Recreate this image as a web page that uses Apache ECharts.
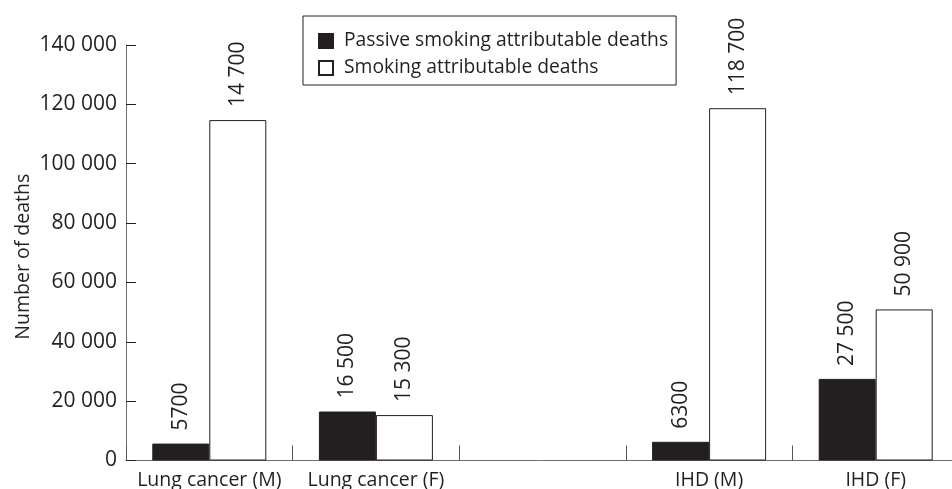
<!DOCTYPE html>
<html>
<head>
<meta charset="utf-8">
<script src="https://cdn.jsdelivr.net/npm/echarts@6/dist/echarts.min.js"></script>
<style>html,body{margin:0;padding:0;background:#fff}#c{width:952px;height:489px}</style>
</head>
<body>
<div id="c"></div>
<script>
var categories = ['Lung cancer (M)', 'Lung cancer (F)', '', 'IHD (M)', 'IHD (F)'];
var passiveValues = [5700, 16500, null, 6300, 27500];
var smokingValues = [114700, 15300, null, 118700, 50900];
var passiveLabels = ['5700', '16 500', '', '6300', '27 500'];
var smokingLabels = ['14 700', '15 300', '', '118 700', '50 900'];
var seriesNames = ['Passive smoking attributable deaths', 'Smoking attributable deaths'];
var yTicks = {min: 0, max: 140000, interval: 20000};
var yName = 'Number of deaths';

var FONT = 'Open Sans';
var INK = '#231f20';
function fmt(v){ if (v < 1000) return String(v); var s = String(v); return s.slice(0, s.length-3) + ' ' + s.slice(-3); }

var chart = echarts.init(document.getElementById('c'));
var labelBase = {show: true, position: 'top', rotate: 90, align: 'left', verticalAlign: 'middle', distance: 13, fontFamily: FONT, fontSize: 21, color: INK};
chart.setOption({
  animation: false,
  textStyle: {fontFamily: FONT, color: INK},
  grid: {left: 126, top: 45, height: 415.5, width: 833, containLabel: false, outerBoundsMode: 'none'},
  legend: {
    orient: 'vertical', left: 303, top: 16,
    backgroundColor: '#fff', borderColor: INK, borderWidth: 1,
    padding: [15, 8, 7, 15], itemGap: 7, itemWidth: 14, itemHeight: 14,
    textStyle: {fontFamily: FONT, fontSize: 19.3, color: INK, lineHeight: 20, padding: [0, 0, 0, 6]},
    data: [
      {name: seriesNames[0], icon: 'rect'},
      {name: seriesNames[1], icon: 'rect'}
    ]
  },
  xAxis: {
    type: 'category', data: categories,
    axisLine: {lineStyle: {color: '#6d6d6d', width: 1}},
    axisTick: {show: true, interval: 0, inside: true, length: 15, lineStyle: {color: '#555', width: 1}},
    axisLabel: {fontFamily: FONT, fontSize: 19.5, color: INK, margin: 10, interval: 0}
  },
  yAxis: {
    type: 'value', min: yTicks.min, max: yTicks.max, interval: yTicks.interval,
    name: yName, nameLocation: 'middle', nameGap: 93, nameMoveOverlap: false,
    nameTextStyle: {fontFamily: FONT, fontSize: 19.5, color: INK, padding: [0, 8, 0, 0]},
    axisLine: {show: true, lineStyle: {color: '#6d6d6d', width: 1}},
    axisTick: {show: true, inside: true, length: 10, lineStyle: {color: INK}},
    axisLabel: {fontFamily: FONT, fontSize: 21, color: INK, margin: 9, formatter: fmt},
    splitLine: {show: false}
  },
  series: [
    {
      name: seriesNames[0], type: 'bar', data: passiveValues, barWidth: 57, barGap: '0%',
      itemStyle: {color: INK, borderColor: INK, borderWidth: 1},
      label: Object.assign({}, labelBase, {formatter: function(p){ return passiveLabels[p.dataIndex]; }})
    },
    {
      name: seriesNames[1], type: 'bar', data: smokingValues, barWidth: 57, barGap: '0%',
      itemStyle: {color: '#ffffff', borderColor: INK, borderWidth: 1},
      label: Object.assign({}, labelBase, {formatter: function(p){ return smokingLabels[p.dataIndex]; }})
    }
  ]
});
</script>
</body>
</html>
